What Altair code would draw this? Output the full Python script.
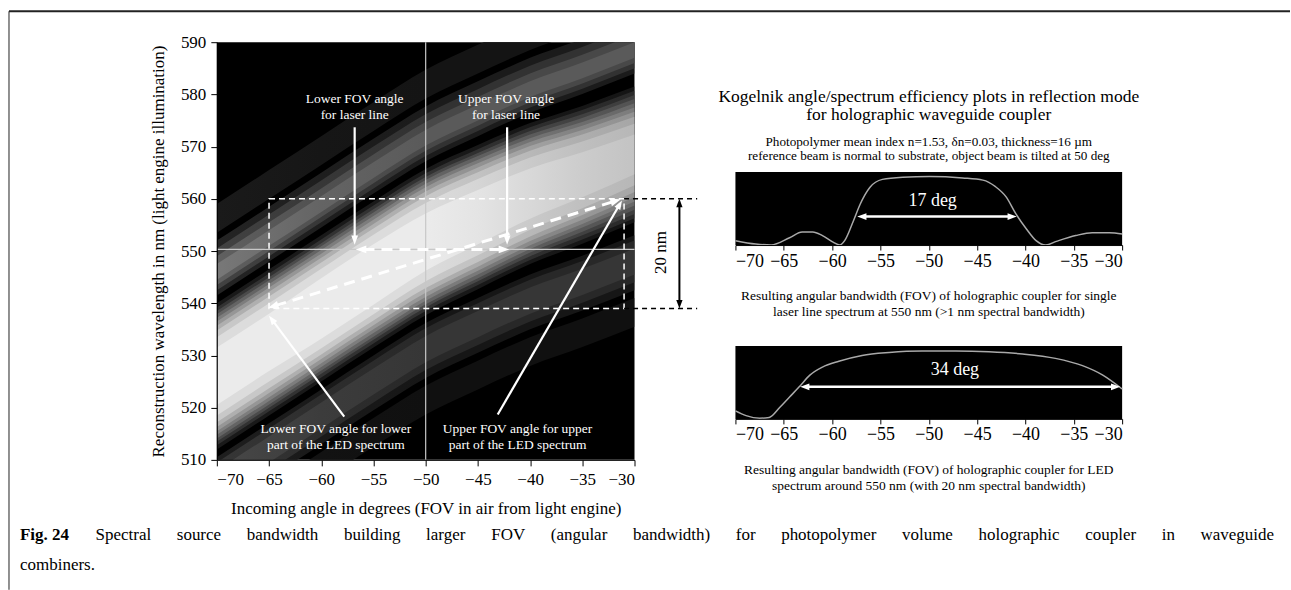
import math
import pandas as pd
import altair as alt

FONT = "Liberation Serif"

# ---------------- left panel: efficiency map -------------
# the map is a diagonal band: centre wavelength of the band at each angle
band_angle = [-70, -65, -60, -55, -50, -45, -40, -35, -30]
band_center = [526.0, 532.5, 539.0, 545.5, 551.7, 556.5, 561.0, 564.6, 568.5]
# relative brightness of the band along the angle axis (dimmer on the right)
band_brightness = [1.0, 1.0, 1.0, 1.0, 1.0, 0.97, 0.92, 0.87, 0.83]
lobe_brightness = [1.2, 1.1, 1.0, 0.95, 0.9, 0.9, 0.9, 0.9, 0.9]
# main lobe: grey level -> half width (nm) of the region at least that bright, per angle
main_gray = [25, 50, 75, 100, 125, 150, 175, 200, 220, 235]
main_halfwidth = [
    [14.0, 14.0, 14.0, 14.0, 14.0, 13.8, 13.5, 13.2, 13.0],
    [13.2, 13.2, 13.2, 13.2, 13.2, 13.0, 12.7, 12.4, 12.2],
    [12.5, 12.5, 12.5, 12.5, 12.5, 12.3, 12.0, 11.6, 11.4],
    [11.9, 11.9, 11.9, 11.9, 11.9, 11.7, 11.3, 10.9, 10.6],
    [11.2, 11.2, 11.2, 11.2, 11.2, 11.0, 10.6, 10.1, 9.8],
    [10.5, 10.5, 10.5, 10.5, 10.5, 10.3, 9.9, 9.4, 9.0],
    [9.7, 9.7, 9.7, 9.7, 9.7, 9.5, 9.1, 8.6, 8.2],
    [8.8, 8.8, 8.8, 8.8, 8.8, 8.6, 8.2, 7.7, 7.2],
    [7.5, 7.5, 7.6, 7.6, 7.5, 7.3, 6.9, 6.4, 5.9],
    [5.5, 5.5, 5.8, 5.8, 5.5, 5.2, 4.8, 4.3, 3.8],
]
# side lobes: (grey level, offset from band centre low, high) in nm
side_lobes = [
    (22, 27.5, 33.0), (18, -33.0, -27.5),
    (30, 15.5, 26.0), (55, 16.5, 24.5), (80, 17.5, 23.0), (100, 18.5, 21.5),
    (25, -26.0, -15.5), (45, -24.5, -16.5), (60, -23.0, -18.0),
]

# ---------------- right panels: Kogelnik efficiency curves -------
laser_angle = [-70.0, -67.9, -66.3, -64.4, -63.1, -62.0, -61.0, -59.9, -59.2, -58.7,
               -57.8, -57.1, -56.1, -54.8, -52.7, -49.9, -46.5, -44.4, -43.1, -42.0,
               -41.0, -39.9, -38.9, -37.9, -36.8, -34.8, -33.1, -31.3, -30.0]
laser_eff = [0.06, 0.014, 0.0, 0.10, 0.18, 0.18, 0.13, 0.04, 0.0, 0.06,
             0.33, 0.56, 0.79, 0.90, 0.93, 0.94, 0.92, 0.89, 0.80, 0.66,
             0.43, 0.22, 0.06, 0.0, 0.05, 0.13, 0.17, 0.17, 0.15]
led_angle = [-70.0, -68.9, -67.5, -66.5, -65.4, -64.4, -63.4, -62.3, -61.0, -59.3,
             -56.9, -54.1, -50.7, -47.2, -43.8, -40.3, -36.9, -34.1, -32.0, -30.0]
led_eff = [0.11, 0.045, 0.01, 0.02, 0.16, 0.30, 0.44, 0.60, 0.71, 0.79,
           0.87, 0.91, 0.93, 0.93, 0.92, 0.89, 0.83, 0.73, 0.60, 0.41]

angle_ticks = [-70, -65, -60, -55, -50, -45, -40, -35, -30]
wavelength_ticks = [510, 515, 520, 525, 530, 535, 540, 545, 550, 555, 560, 565,
                    570, 575, 580, 585, 590]

# annotation anchors (data units)
laser_arrows = [(-56.8, 573.7, -56.8, 551.2, False, True),
                (-42.2, 573.7, -42.2, 551.2, False, True),
                (-57.8, 518.3, -65.0, 537.6, False, True),
                (-43.1, 518.7, -31.2, 559.7, False, True)]
dashed_arrows = [(-56.7, 550.3, -42.0, 550.3, True, True),
                 (-65.1, 539.1, -31.3, 559.9, True, True)]
span_arrow = [(-25.7, 539.0, -25.7, 560.0, True, True)]
led_box = [(-65.0, -31.0, 539.0, 560.0)]
ext_lines = [(-31.0, 560.0, -24.0, 560.0), (-31.0, 539.0, -24.0, 539.0)]
left_labels = [   # (angle, wavelength of first line, lines)
    (-56.8, 579.2, ["Lower FOV angle", "for laser line"]),
    (-42.3, 579.2, ["Upper FOV angle", "for laser line"]),
    (-58.6, 515.9, ["Lower FOV angle for lower", "part of the LED spectrum"]),
    (-41.2, 515.9, ["Upper FOV angle for upper", "part of the LED spectrum"]),
]

# ---------------- layout constants ----------------
OX, OY = 217, 42          # absolute position of the left plot origin
W, H = 418, 418
PW, PH = 387, 73
PX_DEG, PX_NM = W / 40, H / 80
ARROW = "M0,0L0.55,1.5L-0.55,1.5Z"

one = pd.DataFrame({"k": [0]})


def vtext(text, x, y, size, color="black", weight="normal", align="center",
          line_height=None):
    kw = dict(font=FONT, fontSize=size, color=color, fontWeight=weight, align=align,
              baseline="middle")
    if line_height is not None:
        kw["lineHeight"] = line_height
    return alt.Chart(one).mark_text(**kw).encode(
        x=alt.value(x), y=alt.value(y), text=alt.value(text))


def arrow_parts(arrows, sx, sy, size):
    r = math.sqrt(size) / 2
    back = 1.1 * r
    segs, hds = [], []
    for x0, y0, x1, y1, h0, h1 in arrows:
        dx, dy = (x1 - x0) * sx, (y1 - y0) * sy
        L = math.hypot(dx, dy)
        ux, uy = dx / L, dy / L
        a0x, a0y, a1x, a1y = x0, y0, x1, y1
        if h1:
            hds.append(dict(x=x1, y=y1, ang=math.degrees(math.atan2(ux, uy)) % 360))
            a1x -= ux * back / sx
            a1y -= uy * back / sy
        if h0:
            hds.append(dict(x=x0, y=y0, ang=math.degrees(math.atan2(-ux, -uy)) % 360))
            a0x += ux * back / sx
            a0y += uy * back / sy
        segs.append(dict(x0=a0x, y0=a0y, x1=a1x, y1=a1y))
    return pd.DataFrame(segs), pd.DataFrame(hds)


# ---------------- left chart ----------------
xs = alt.Scale(domain=[-70, -30], nice=False, zero=False)
ys = alt.Scale(domain=[510, 590], nice=False, zero=False)

x_axis = alt.Axis(values=angle_ticks, format="d",
                  title="Incoming angle in degrees (FOV in air from light engine)",
                  labelFont=FONT, labelFontSize=17, titleFont=FONT, titleFontSize=17,
                  titleFontWeight="normal", tickSize=6, labelPadding=6, titlePadding=13,
                  domainColor="black", tickColor="black", labelColor="black",
                  titleColor="black", grid=False, zindex=1)
y_axis = alt.Axis(values=wavelength_ticks, format="d",
                  title="Reconstruction wavelength in nm (light engine illumination)",
                  labelFont=FONT, labelFontSize=17, titleFont=FONT, titleFontSize=17,
                  titleFontWeight="normal", tickSize=6, labelPadding=5, titlePadding=13,
                  domainColor="black", tickColor="black", labelColor="black",
                  titleColor="black", grid=False, zindex=1)

bg = alt.Chart(one).mark_rect(color="white").encode(
    x=alt.value(-OX), x2=alt.value(1291 - OX), y=alt.value(-OY), y2=alt.value(590 - OY))
plot_black = alt.Chart(one).mark_rect(color="black").encode(
    x=alt.value(0), x2=alt.value(W), y=alt.value(0), y2=alt.value(H))


def gray_hex(g):
    g = max(0, min(255, int(round(g))))
    return "#{0:02x}{0:02x}{0:02x}".format(g)


def fade(g, mult):
    stops = [alt.GradientStop(offset=(a + 70) / 40, color=gray_hex(g * m))
             for a, m in zip(band_angle, mult)]
    return alt.LinearGradient(gradient="linear", stops=stops, x1=0, x2=1, y1=0, y2=0)


def band_layer(lo, hi, fill, with_axes=False):
    df = pd.DataFrame({"angle": band_angle, "lo": lo, "hi": hi})
    if with_axes:
        xe = alt.X("angle:Q", scale=xs, axis=x_axis)
        ye = alt.Y("lo:Q", scale=ys, axis=y_axis)
    else:
        xe = alt.X("angle:Q", scale=xs)
        ye = alt.Y("lo:Q", scale=ys)
    return alt.Chart(df).mark_area(color=fill, clip=True, interpolate="monotone",
                                   opacity=1).encode(x=xe, y=ye, y2="hi:Q")


band_layers = []
for g, off_lo, off_hi in side_lobes:
    band_layers.append(band_layer([c + off_lo for c in band_center],
                                  [c + off_hi for c in band_center],
                                  fade(g, lobe_brightness),
                                  with_axes=(len(band_layers) == 0)))
for g, hws in zip(main_gray, main_halfwidth):
    band_layers.append(band_layer([c - h for c, h in zip(band_center, hws)],
                                  [c + h for c, h in zip(band_center, hws)],
                                  fade(g, band_brightness)))

cross_df = pd.DataFrame([dict(x0=-50, y0=510, x1=-50, y1=590),
                         dict(x0=-70, y0=550.3, x1=-30, y1=550.3)])


def segs_layer(df, **mk):
    return alt.Chart(df).mark_rule(**mk).encode(
        x=alt.X("x0:Q", scale=xs), y=alt.Y("y0:Q", scale=ys), x2="x1:Q", y2="y1:Q")


def heads_layer(df, color, size, sx=xs, sy=ys):
    return alt.Chart(df).mark_point(shape=ARROW, filled=True, color=color, size=size,
                                    opacity=1, strokeWidth=0).encode(
        x=alt.X("x:Q", scale=sx), y=alt.Y("y:Q", scale=sy),
        angle=alt.Angle("ang:Q", scale=None))


cross = segs_layer(cross_df, color="#c8c8c8", strokeWidth=1.2)

box_df = pd.DataFrame([dict(a0=a0, a1=a1, w0=w0, w1=w1) for a0, a1, w0, w1 in led_box])
box = alt.Chart(box_df).mark_rect(filled=False, stroke="white", strokeWidth=1.5,
                                  strokeDash=[6, 4]).encode(
    x=alt.X("a0:Q", scale=xs), x2="a1:Q", y=alt.Y("w0:Q", scale=ys), y2="w1:Q")

ext_df = pd.DataFrame([dict(x0=a, y0=b, x1=c, y1=d) for a, b, c, d in ext_lines])
ext = segs_layer(ext_df, color="black", strokeWidth=1.5, strokeDash=[5, 4])

s1, h1 = arrow_parts(laser_arrows, PX_DEG, PX_NM, 150)
s2, h2 = arrow_parts(dashed_arrows, PX_DEG, PX_NM, 200)
s3, h3 = arrow_parts(span_arrow, PX_DEG, PX_NM, 130)

solid = segs_layer(s1, color="white", strokeWidth=2.2)
solid_h = heads_layer(h1, "white", 150)
dashed = segs_layer(s2, color="white", strokeWidth=3, strokeDash=[11, 7])
dashed_h = heads_layer(h2, "white", 200)
span = segs_layer(s3, color="black", strokeWidth=2)
span_h = heads_layer(h3, "black", 130)

lab_df = pd.DataFrame([dict(x=a, y=b, t=t) for a, b, t in left_labels])
labels = alt.Chart(lab_df).mark_text(font=FONT, fontSize=13.5, color="white",
                                     align="center", baseline="middle",
                                     lineHeight=16).encode(
    x=alt.X("x:Q", scale=xs), y=alt.Y("y:Q", scale=ys), text="t")

nm_df = pd.DataFrame([dict(x=-27.5, y=549.7, t="20 nm")])
nm_text = alt.Chart(nm_df).mark_text(font=FONT, fontSize=17, color="black", angle=270,
                                     align="center", baseline="middle").encode(
    x=alt.X("x:Q", scale=xs), y=alt.Y("y:Q", scale=ys), text="t:N")

# figure frame
frame_top = alt.Chart(one).mark_rule(color="#222222", strokeWidth=2).encode(
    x=alt.value(9 - OX), x2=alt.value(1291 - OX), y=alt.value(11 - OY))
frame_left = alt.Chart(one).mark_rule(color="#222222", strokeWidth=1).encode(
    x=alt.value(9 - OX), y=alt.value(11 - OY), y2=alt.value(590 - OY))

# caption (justified first line)
TIMES = {'a': .444, 'b': .5, 'c': .444, 'd': .5, 'e': .444, 'f': .333, 'g': .5, 'h': .5,
         'i': .278, 'j': .278, 'k': .5, 'l': .278, 'm': .778, 'n': .5, 'o': .5, 'p': .5,
         'q': .5, 'r': .333, 's': .389, 't': .278, 'u': .5, 'v': .5, 'w': .722, 'x': .5,
         'y': .5, 'z': .444, 'F': .556, 'O': .722, 'V': .722, 'S': .556, '(': .333,
         ')': .333, '.': .25, ' ': .25}
CAP_SIZE = 17


def est_width(s, size, bold=False):
    return sum(TIMES.get(c, 0.5) for c in s) * size * (1.04 if bold else 1.0)


cap_words = ["Spectral", "source", "bandwidth", "building", "larger", "FOV", "(angular",
             "bandwidth)", "for", "photopolymer", "volume", "holographic", "coupler", "in",
             "waveguide"]
tokens = [("Fig. 24", True)] + [(w, False) for w in cap_words]
widths = [est_width(t, CAP_SIZE, b) for t, b in tokens]
x_start, x_end = 20, 1275
gap = (x_end - x_start - sum(widths)) / (len(tokens) - 1)
caption_layers = []
cx = x_start
for (t, b), w in zip(tokens, widths):
    caption_layers.append(vtext(t, cx - OX, 535 - OY, CAP_SIZE,
                                weight="bold" if b else "normal", align="left"))
    cx += w + gap
caption_layers.append(vtext("combiners.", x_start - OX, 565 - OY, CAP_SIZE, align="left"))

left = alt.layer(bg, plot_black, *band_layers, cross, box, ext, dashed, dashed_h, solid,
                 solid_h, span, span_h, labels, nm_text, frame_top, frame_left,
                 *caption_layers).properties(width=W, height=H)

# ---------------- right charts ----------------
pxs = alt.Scale(domain=[-70, -30], nice=False, zero=False)
pys = alt.Scale(domain=[0, 1], nice=False, zero=False)
p_axis = alt.Axis(values=angle_ticks, format="d", title=None, labelFont=FONT,
                  labelFontSize=18, tickSize=5, labelPadding=2, domainColor="black",
                  tickColor="black", labelColor="black", grid=False, zindex=1)
PX_DEG_P = PW / 40


def panel(angles, effs, label, label_xy, arrow, caption_lines):
    df = pd.DataFrame({"angle": angles, "eff": effs})
    back = alt.Chart(one).mark_rect(color="black").encode(
        x=alt.value(0), x2=alt.value(PW), y=alt.value(0), y2=alt.value(PH))
    line = alt.Chart(df).mark_line(color="#a9a9a9", strokeWidth=1.5,
                                   interpolate="monotone").encode(
        x=alt.X("angle:Q", scale=pxs, axis=p_axis),
        y=alt.Y("eff:Q", scale=pys, axis=None))
    sg, hd = arrow_parts([arrow], PX_DEG_P, PH, 150)
    seg = alt.Chart(sg).mark_rule(color="white", strokeWidth=2.5).encode(
        x=alt.X("x0:Q", scale=pxs), y=alt.Y("y0:Q", scale=pys), x2="x1:Q", y2="y1:Q")
    hds = heads_layer(hd, "white", 150, pxs, pys)
    ldf = pd.DataFrame([dict(x=label_xy[0], y=label_xy[1], t=label)])
    lab = alt.Chart(ldf).mark_text(font=FONT, fontSize=18, color="white",
                                   align="center", baseline="middle").encode(
        x=alt.X("x:Q", scale=pxs), y=alt.Y("y:Q", scale=pys), text="t:N")
    cap = vtext(caption_lines, PW / 2, 124.5, 13.5, line_height=15.3)
    return alt.layer(back, line, seg, hds, lab, cap).properties(width=PW, height=PH)


panel1 = panel(laser_angle, laser_eff, "17 deg", (-49.6, 0.60),
               (-57.4, 0.39, -40.9, 0.39, True, True),
               ["Resulting angular bandwidth (FOV) of holographic coupler for single",
                "laser line spectrum at 550 nm (>1 nm spectral bandwidth)"])
panel2 = panel(led_angle, led_eff, "34 deg", (-47.3, 0.67),
               (-63.3, 0.44, -30.2, 0.44, True, True),
               ["Resulting angular bandwidth (FOV) of holographic coupler for LED",
                "spectrum around 550 nm (with 20 nm spectral bandwidth)"])

header = alt.layer(
    vtext(["Kogelnik angle/spectrum efficiency plots in reflection mode",
           "for holographic waveguide coupler"], PW / 2, 54.5, 17.5, line_height=18.5),
    vtext(["Photopolymer mean index n=1.53, \u03b4n=0.03, thickness=16 \u00b5m",
           "reference beam is normal to substrate, object beam is tilted at 50 deg"],
          PW / 2, 99.7, 13.2, line_height=14.3),
).properties(width=PW, height=29)

right = alt.vconcat(header, panel1, panel2, spacing=101, bounds="flush")

chart = (alt.hconcat(left, right, spacing=101, bounds="flush")
         .properties(padding=0, background="white")
         .configure(font=FONT)
         .configure_view(stroke=None))

chart.save("out.html", embed_options={"renderer": "svg", "actions": False})
